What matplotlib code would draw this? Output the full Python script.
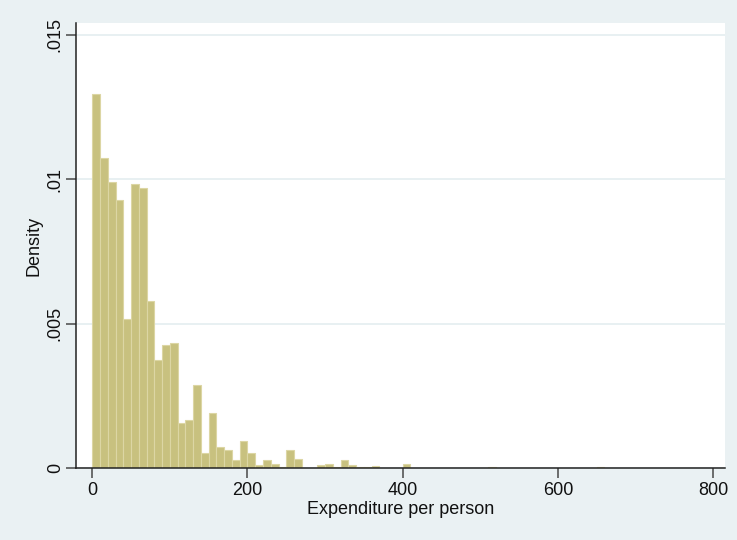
import matplotlib
matplotlib.use("Agg")
import matplotlib.pyplot as plt
import numpy as np

plt.rcParams['font.family'] = ['Liberation Sans', 'DejaVu Sans']

# histogram: bins of width 10 starting at 0, density per bin
bin_width = 10
density = [
    0.01295, 0.01074, 0.00992, 0.00927, 0.00517, 0.00985, 0.00969, 0.00578,
    0.00376, 0.00428, 0.00435, 0.00158, 0.00166, 0.00288, 0.00053, 0.00190,
    0.00073, 0.00064, 0.00027, 0.00095, 0.00053, 0.00010, 0.00029, 0.00014,
    0.00005, 0.00065, 0.00031, 0.0, 0.0, 0.00010, 0.00015, 0.00005,
    0.00029, 0.00012, 0.00005, 0.00005, 0.00008, 0.0, 0.0, 0.0,
    0.00015, 0.0, 0.0, 0.0, 0.0, 0.0, 0.0, 0.0,
    0.0, 0.0, 0.0, 0.00005, 0.0, 0.0, 0.0, 0.0,
    0.0, 0.0, 0.0, 0.0, 0.0, 0.0, 0.0, 0.0,
    0.0, 0.00005,
]
x_ticks = [0, 200, 400, 600, 800]
y_ticks = [0, 0.005, 0.01, 0.015]
y_tick_labels = ["0", ".005", ".01", ".015"]

bg = "#eaf1f3"
grid_col = "#e4edf0"

fig = plt.figure(figsize=(7.37, 5.40), dpi=100, facecolor=bg)
ax = fig.add_axes([0.1035, 0.1328, 0.88, 0.8252])
ax.set_facecolor("white")

dens = np.array(density)
left = np.arange(len(dens)) * bin_width
keep = dens > 0
ax.bar(left[keep], dens[keep], width=bin_width, align="edge",
       color="#c8c17f", edgecolor="#dcd6a4", linewidth=0.8, zorder=2)

ax.set_xlim(-20.6, 815.1)
ax.set_ylim(0, 0.015419)

ax.set_xticks(x_ticks)
ax.set_yticks(y_ticks)
ax.set_yticklabels(y_tick_labels, rotation=90, va="center")
ax.tick_params(axis="both", labelsize=13, length=7, width=1.2,
               color="#555555", labelcolor="#111111")
ax.tick_params(axis="x", pad=3)
ax.tick_params(axis="y", pad=2)

ax.yaxis.grid(True, color=grid_col, linewidth=1.2, zorder=0)
ax.set_axisbelow(True)

for s in ("top", "right"):
    ax.spines[s].set_visible(False)
for s in ("left", "bottom"):
    ax.spines[s].set_color("#222222")
    ax.spines[s].set_linewidth(1.1)

ax.set_xlabel("Expenditure per person", fontsize=13, labelpad=1, color="#111111")
ax.set_ylabel("Density", fontsize=13, labelpad=3, color="#111111")

fig.savefig("out.png", dpi=100, facecolor=bg)
